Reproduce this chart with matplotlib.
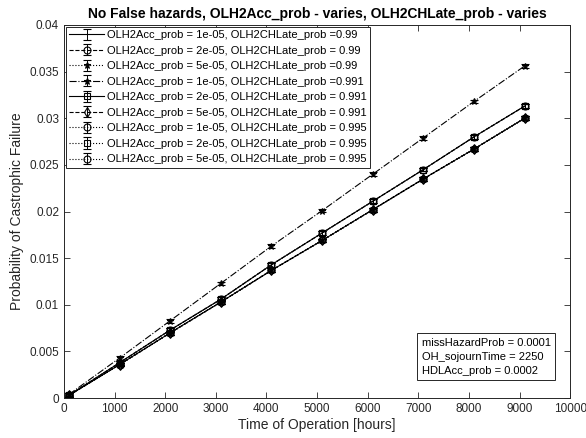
import matplotlib.pyplot as plt

plt.rcParams['font.family'] = ['Liberation Sans', 'DejaVu Sans']

hours = [100, 1100, 2100, 3100, 4100, 5100, 6100, 7100, 8100, 9100]

# three visible levels of curves
p_top = [0.0004, 0.0043, 0.0083, 0.0123, 0.0163, 0.0201, 0.0240, 0.0279, 0.0318, 0.0356]
p_mid = [0.0003, 0.0038, 0.0073, 0.0106, 0.0143, 0.0177, 0.0211, 0.0245, 0.0280, 0.0313]
p_low = [0.0003, 0.0036, 0.0070, 0.0103, 0.0137, 0.0169, 0.0202, 0.0235, 0.0267, 0.0300]
err = 0.0002

labels = [
    'OLH2Acc_prob = 1e-05, OLH2CHLate_prob =0.99',
    'OLH2Acc_prob = 2e-05, OLH2CHLate_prob = 0.99',
    'OLH2Acc_prob = 5e-05, OLH2CHLate_prob =0.99',
    'OLH2Acc_prob = 1e-05, OLH2CHLate_prob =0.991',
    'OLH2Acc_prob = 2e-05, OLH2CHLate_prob = 0.991',
    'OLH2Acc_prob = 5e-05, OLH2CHLate_prob = 0.991',
    'OLH2Acc_prob = 1e-05, OLH2CHLate_prob = 0.995',
    'OLH2Acc_prob = 2e-05, OLH2CHLate_prob = 0.995',
    'OLH2Acc_prob = 5e-05, OLH2CHLate_prob = 0.995',
]
series = [p_low, p_mid, p_low, p_top, p_mid, p_low, p_low, p_mid, p_low]
styles = ['-', '--', ':', '-.', '-', '--', ':', ':', ':']
markers = ['', 'o', '*', '*', 's', 'd', 'o', 's', 'o']

fig = plt.figure(figsize=(5.86, 4.38), dpi=100)
ax = fig.add_axes([0.109, 0.091, 0.864, 0.852])

for y, ls, mk, lab in zip(series, styles, markers, labels):
    ax.errorbar(hours, y, yerr=err, color='black', ls=ls, lw=0.8,
                marker=mk if mk else None, ms=5, mfc='none', mew=0.8,
                elinewidth=0.7, capsize=3, capthick=0.7, label=lab)

ax.set_xlim(0, 10000)
ax.set_ylim(0, 0.04)
ax.set_xticks(range(0, 10001, 1000))
ax.set_yticks([0, 0.005, 0.01, 0.015, 0.02, 0.025, 0.03, 0.035, 0.04])
ax.set_yticklabels(['0', '0.005', '0.01', '0.015', '0.02', '0.025', '0.03', '0.035', '0.04'])
ax.tick_params(direction='in', top=True, right=True, labelsize=8.5,
               colors='#262626', length=4, width=0.6)
for s in ax.spines.values():
    s.set_color('#262626')
    s.set_linewidth(0.7)

ax.set_xlabel('Time of Operation [hours]', fontsize=10, color='#262626', labelpad=2)
ax.set_ylabel('Probability of Castrophic Failure', fontsize=10, color='#262626', labelpad=4)
ax.set_title('No False hazards, OLH2Acc_prob - varies, OLH2CHLate_prob - varies',
             fontsize=10, fontweight='bold', pad=5)

leg = ax.legend(loc='upper left', fontsize=8, frameon=True, fancybox=False,
                edgecolor='#262626', framealpha=1, borderaxespad=0.15,
                handlelength=3.2, handletextpad=0.2, labelspacing=0.5,
                borderpad=0.3)
leg.get_frame().set_linewidth(0.7)

ax.text(0.962, 0.06, 'missHazardProb = 0.0001\nOH_sojournTime = 2250\nHDLAcc_prob = 0.0002',
        transform=ax.transAxes, ha='right', va='bottom', fontsize=8,
        multialignment='left', linespacing=1.5,
        bbox=dict(boxstyle='square,pad=0.4', fc='white', ec='#262626', lw=0.7))

fig.savefig('out.png', dpi=100)
